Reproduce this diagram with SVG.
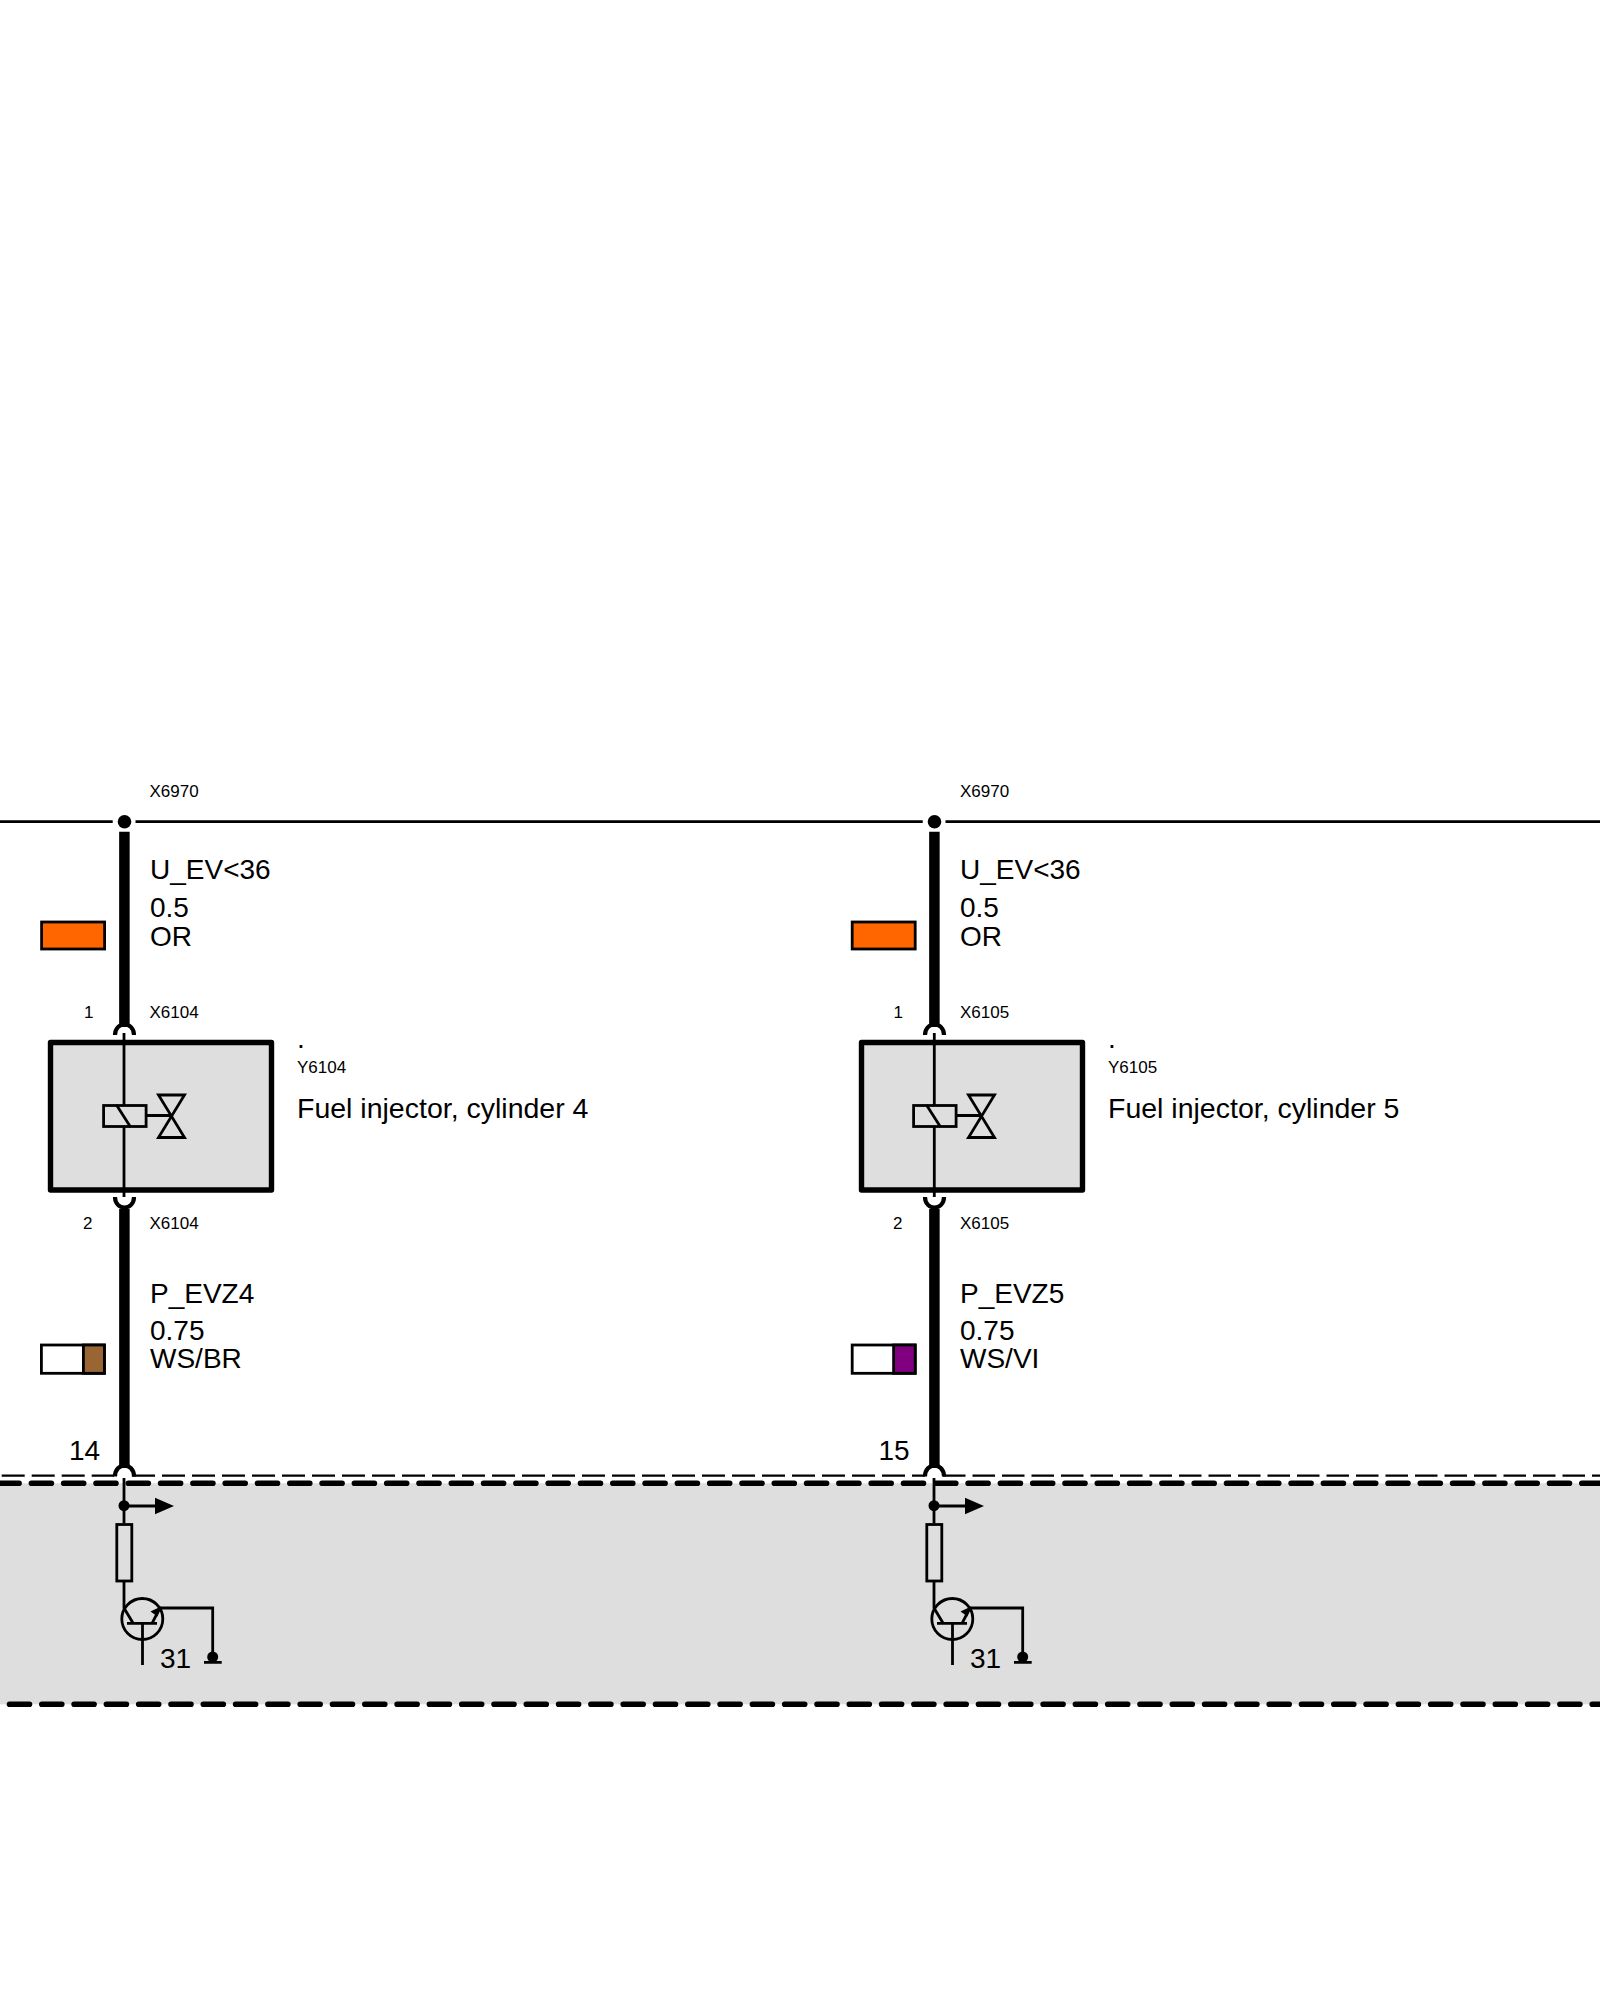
<svg xmlns="http://www.w3.org/2000/svg" width="1600" height="2000" viewBox="0 0 1600 2000">
<style>
text{font-family:"Liberation Sans",Arial,sans-serif;fill:#000}
.s{font-size:17px}
.l{font-size:28px}
.f{font-size:28.5px}
.w{fill:none;stroke:#000;stroke-width:2.8}
.t{fill:none;stroke:#000;stroke-width:10.5}
.c{fill:none;stroke:#000;stroke-width:4.2}
.box{fill:#dedede;stroke:#000;stroke-width:5.4;stroke-linejoin:round}
.sw{stroke:#000;stroke-width:2.8}
.d1{fill:none;stroke:#000;stroke-width:2.2;stroke-dasharray:23 7}
.d2{fill:none;stroke:#000;stroke-width:5.6;stroke-linecap:round;stroke-dasharray:20 12.3}
</style>
<defs>
<g id="sym-valve">
<rect class="w" x="103.6" y="1105.5" width="42.5" height="21"/>
<path class="w" d="M116.5 1105L130.5 1127M146 1115.5H171.5M158.5 1095H184.5L158.5 1137.5H184.5Z"/>
</g>
<g id="sym-driver">
<circle cx="124" cy="1505.7" r="5.5"/>
<path class="w" d="M124 1478V1523M124 1506H157"/>
<path d="M155 1497.7V1514.3L174 1506Z"/>
<rect class="w" x="116.8" y="1524.5" width="15" height="56.5"/>
<path class="w" d="M124 1581V1608L133 1623M127 1623.3H157M142.5 1623.3V1665M152 1623.3L160 1608H212.7V1653M204 1662.3H221.7"/>
<path d="M161 1606.5L150.5 1611.5L157.5 1616.5Z"/>
<circle class="w" cx="142.3" cy="1619" r="20.5"/>
<circle cx="212.7" cy="1657" r="5.5"/>
</g>
</defs>
<g id="control-unit">
<rect x="0" y="1483.3" width="1600" height="221" fill="#dedede"/>
<path class="d1" d="M1.7 1475.7H114"/>
<path class="d1" d="M132 1475.7H925"/>
<path class="d1" d="M943 1475.7H1600" style="stroke-dasharray:22.5 7"/>
<path class="d2" d="M-0.9 1483.3H1600"/>
<path class="d2" d="M9.5 1704.3H1600"/>
</g>
<g id="connectors">
<path class="w" d="M0 821.7H112.7M135.5 821.7H922.7M945.5 821.7H1600"/>
<path class="t" d="M124.4 831.7V1027M124.4 1209V1468"/>
<path class="t" d="M934.4 831.7V1027M934.4 1209V1468"/>
<path class="c" d="M115 1035C115 1021 134 1021 134 1035M115 1197C115 1211 134 1211 134 1197M115 1476.5C115 1462 134 1462 134 1476.5"/>
<path class="c" d="M925 1035C925 1021 944 1021 944 1035M925 1197C925 1211 944 1211 944 1197M925 1476.5C925 1462 944 1462 944 1476.5"/>
</g>
<g id="junction-1"><circle cx="124.5" cy="821.7" r="6.8"/><text class="s" x="149.5" y="797">X6970</text></g>
<g id="junction-2"><circle cx="934.5" cy="821.7" r="6.8"/><text class="s" x="960" y="797">X6970</text></g>
<g id="wire-u-1">
<rect class="sw" x="41.6" y="922" width="63" height="27" fill="#ff6600"/>
<text class="l" x="150" y="879.2">U_EV&lt;36</text>
<text class="l" x="150" y="916.7">0.5</text>
<text class="l" x="150" y="945.7">OR</text>
</g>
<g id="wire-u-2">
<rect class="sw" x="852.2" y="922" width="63" height="27" fill="#ff6600"/>
<text class="l" x="960" y="879.2">U_EV&lt;36</text>
<text class="l" x="960" y="916.7">0.5</text>
<text class="l" x="960" y="945.7">OR</text>
</g>
<g id="injector-y6104">
<rect class="box" x="50.5" y="1042.5" width="221" height="147.5"/>
<path class="w" d="M124 1033V1105.5M124 1126.5V1197"/>
<use href="#sym-valve"/>
<text class="s" x="84" y="1018.3">1</text>
<text class="s" x="149.5" y="1018.3">X6104</text>
<text class="s" x="83" y="1229">2</text>
<text class="s" x="149.5" y="1229">X6104</text>
<text class="l" x="297" y="1047.7">.</text>
<text class="s" x="297" y="1073.3">Y6104</text>
<text class="f" x="297" y="1118.3">Fuel injector, cylinder 4</text>
</g>
<g id="injector-y6105">
<rect class="box" x="861.5" y="1042.5" width="221" height="147.5"/>
<path class="w" d="M934.3 1033V1105.5M934.3 1126.5V1197"/>
<use href="#sym-valve" x="810"/>
<text class="s" x="893.5" y="1018.3">1</text>
<text class="s" x="960" y="1018.3">X6105</text>
<text class="s" x="893" y="1229">2</text>
<text class="s" x="960" y="1229">X6105</text>
<text class="l" x="1108" y="1047.7">.</text>
<text class="s" x="1108" y="1073.3">Y6105</text>
<text class="f" x="1108" y="1118.3">Fuel injector, cylinder 5</text>
</g>
<g id="wire-p-1">
<rect class="sw" x="41.4" y="1345" width="63" height="28.3" fill="#fff"/>
<rect class="sw" x="83.4" y="1345" width="21" height="28.3" fill="#996633"/>
<text class="l" x="150" y="1303.3">P_EVZ4</text>
<text class="l" x="150" y="1339.8">0.75</text>
<text class="l" x="150" y="1368.3">WS/BR</text>
</g>
<g id="wire-p-2">
<rect class="sw" x="852.2" y="1345" width="63" height="28.3" fill="#fff"/>
<rect class="sw" x="893.6" y="1345" width="21.6" height="28.3" fill="#800080"/>
<text class="l" x="960" y="1303.3">P_EVZ5</text>
<text class="l" x="960" y="1339.8">0.75</text>
<text class="l" x="960" y="1368.3">WS/VI</text>
</g>
<g id="driver-14">
<use href="#sym-driver"/>
<text class="l" x="69" y="1460">14</text>
<text class="l" x="160" y="1667.7">31</text>
</g>
<g id="driver-15">
<use href="#sym-driver" x="810"/>
<text class="l" x="878.5" y="1460">15</text>
<text class="l" x="970" y="1667.7">31</text>
</g>
</svg>
